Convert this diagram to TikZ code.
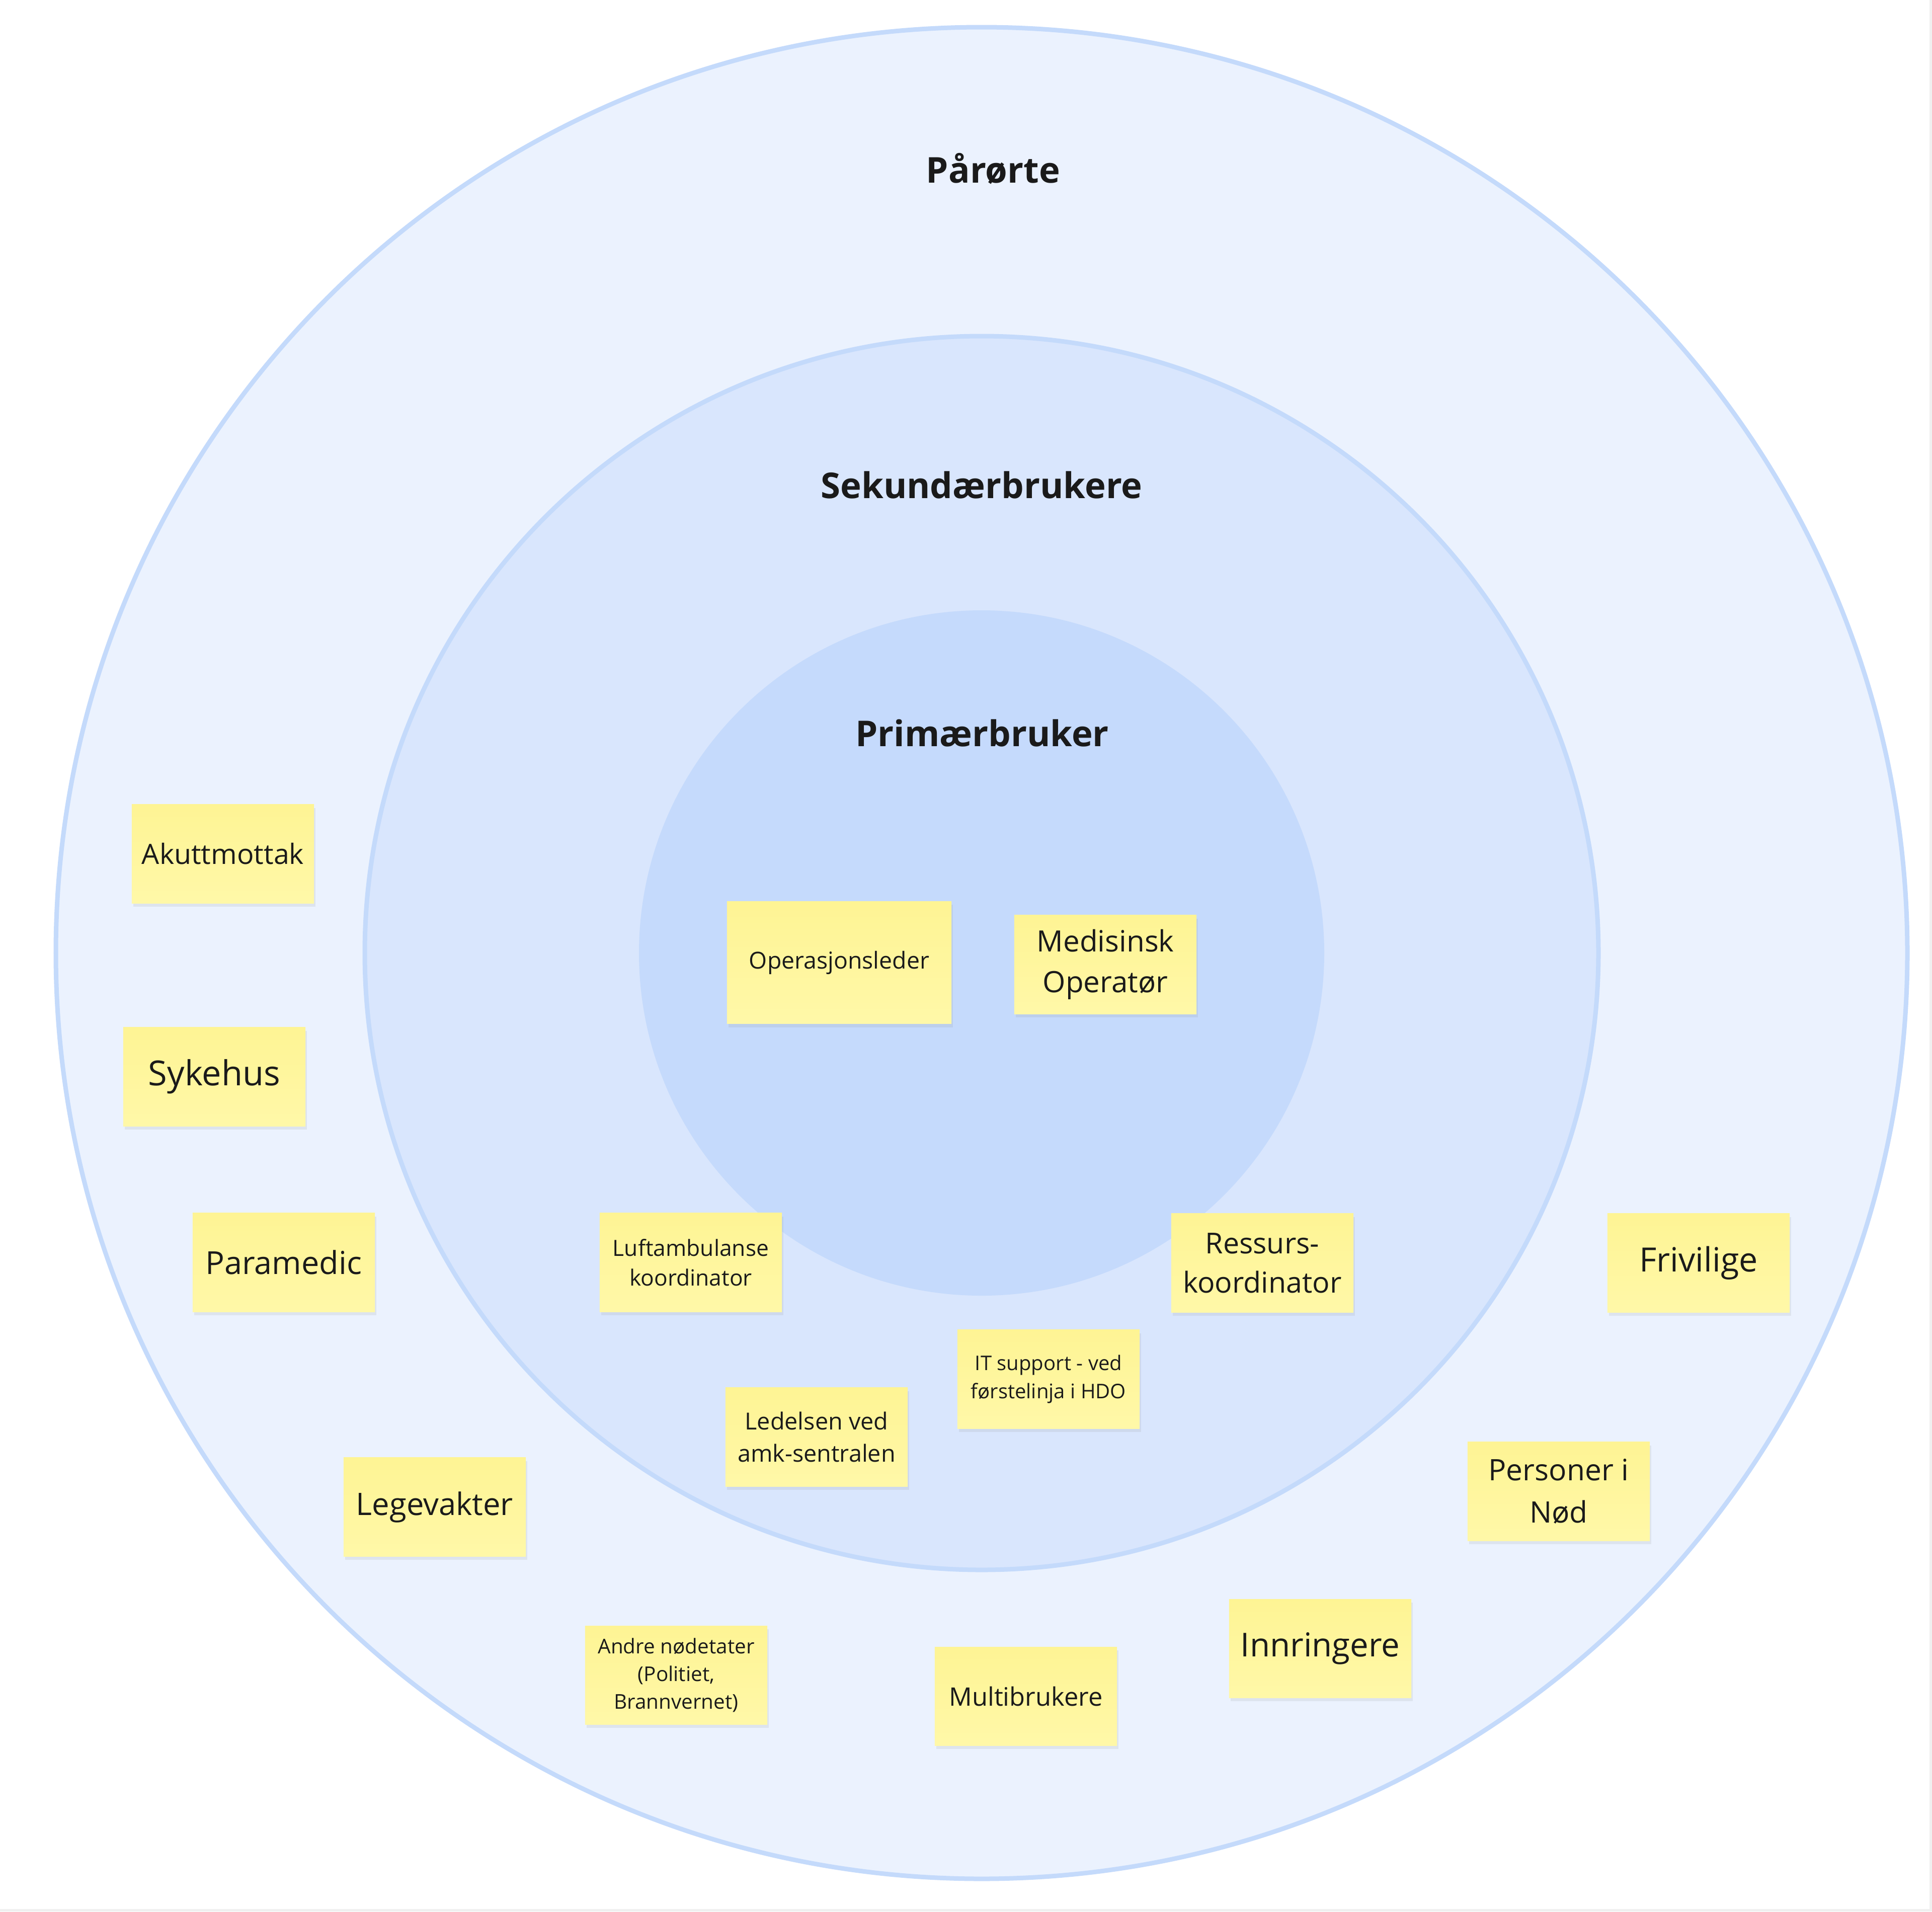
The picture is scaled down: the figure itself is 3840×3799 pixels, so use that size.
\documentclass[tikz,border=0pt]{standalone}
\usepackage{fontspec}
\setmainfont{Open Sans}
\usepackage{xcolor}
\usepackage{tikz}
\usetikzlibrary{shadows}

\definecolor{ringout}{HTML}{EBF2FE}
\definecolor{ringmid}{HTML}{D9E6FD}
\definecolor{ringin}{HTML}{C5DAFC}
\definecolor{ringline}{HTML}{C4DAFB}
\definecolor{notetop}{HTML}{FEF494}
\definecolor{notebot}{HTML}{FFF8A8}
\definecolor{ink}{HTML}{1A1A1A}

\newcommand{\notesize}[2]{\fontsize{#1}{#2}\selectfont}

\begin{document}
\begin{tikzpicture}[x=0.01cm, y=-0.01cm]
        % Define styles for the rings and the sticky notes
        \tikzstyle{ring} = [line width=0.09cm, draw=ringline]
        \tikzstyle{ringtitle} = [font=\bfseries\notesize{20.1}{27}, text=ink]
        \tikzstyle{note} = [rectangle, top color=notetop, bottom color=notebot,
                            minimum width=3.62cm, minimum height=1.96cm, align=center, text=ink,
                            drop shadow={opacity=0.12, shadow xshift=0.03cm, shadow yshift=-0.07cm}]
        \tikzstyle{bignote} = [note, minimum width=4.46cm, minimum height=2.43cm]

        \useasboundingbox (0,0) rectangle (3840,3799);
        \fill[white] (0,0) rectangle (3840,3799);
        \draw[gray!12, line width=0.05cm] (3837,0) -- (3837,3796) -- (0,3796);

        % Rings
        \filldraw[ring, fill=ringout] (1951,1894) circle (1840);
        \filldraw[ring, fill=ringmid] (1951,1894) circle (1226);
        \fill[ringin] (1951,1894) circle (681);

        \node (parorte) [ringtitle] at (1974,335) {Pårørte};
        \node (sekundar) [ringtitle] at (1951,964) {Sekundærbrukere};
        \node (primar) [ringtitle] at (1952,1457) {Primærbruker};

        % Primary users
        \node (opleder) [bignote, font=\notesize{13.2}{18}] at (1668,1913) {Operasjonsleder};
        \node (medop) [note, font=\notesize{16.6}{23}] at (2197,1917) {Medisinsk\\Operatør};

        % Secondary users
        \node (luftamb) [note, font=\notesize{12.6}{16.8}] at (1373,2509) {Luftambulanse\\koordinator};
        \node (ressurs) [note, font=\notesize{16.3}{22.3}] at (2509,2510) {Ressurs-\\koordinator};
        \node (itsupport) [note, font=\notesize{11.4}{16}] at (2084,2741) {IT support - ved\\førstelinja i HDO};
        \node (ledelsen) [note, font=\notesize{13.3}{18}] at (1623,2856) {Ledelsen ved\\amk-sentralen};

        % Relatives and others
        \node (akutt) [note, font=\notesize{15.8}{21}] at (443,1697) {Akuttmottak};
        \node (sykehus) [note, font=\notesize{19.5}{26}] at (426,2140) {Sykehus};
        \node (paramedic) [note, font=\notesize{17.9}{24}] at (564,2509) {Paramedic};
        \node (legevakt) [note, font=\notesize{17.5}{24}] at (864,2995) {Legevakter};
        \node (andre) [note, font=\notesize{11.5}{15.7}] at (1344,3329) {Andre nødetater\\(Politiet,\\Brannvernet)};
        \node (multi) [note, font=\notesize{14.4}{20}] at (2039,3371) {Multibrukere};
        \node (innring) [note, font=\notesize{18.6}{25}] at (2624,3276) {Innringere};
        \node (personer) [note, font=\notesize{16.7}{23.7}] at (3098,2964) {Personer i\\Nød};
        \node (frivilig) [note, font=\notesize{18.9}{25}] at (3376,2510) {Frivilige};
\end{tikzpicture}
\end{document}
